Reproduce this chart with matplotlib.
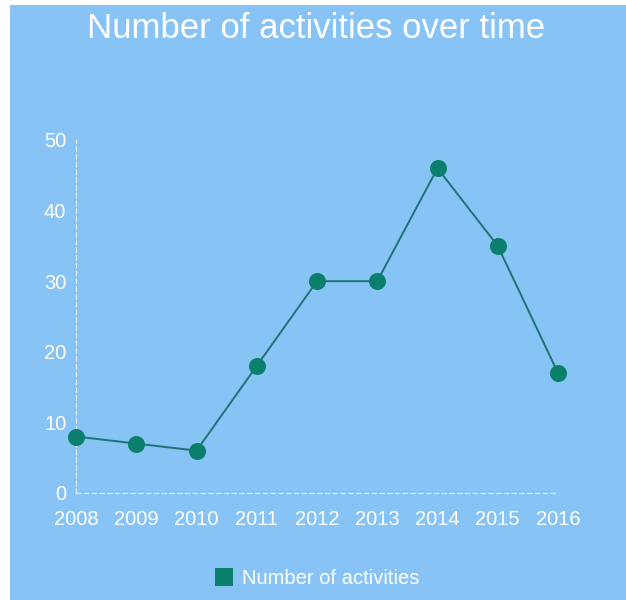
import matplotlib.pyplot as plt
from matplotlib.patches import Rectangle
from matplotlib.lines import Line2D

years = [2008, 2009, 2010, 2011, 2012, 2013, 2014, 2015, 2016]
activities = [8, 7, 6, 18, 30, 30, 46, 35, 17]
y_ticks = [0, 10, 20, 30, 40, 50]

bg = "#88c3f5"
marker_color = "#0a7f6c"
line_color = "#1f7374"

plt.rcParams["font.family"] = ["Liberation Sans", "DejaVu Sans"]

fig = plt.figure(figsize=(6.26, 6.0), dpi=100)
fig.patch.set_facecolor("white")
# blue panel with a thin white margin on the left and top
fig.patches.append(Rectangle((10 / 626, 0), 1 - 10 / 626, 1 - 5 / 600,
                             transform=fig.transFigure, facecolor=bg,
                             edgecolor="none", zorder=-10))

ax = fig.add_axes([76 / 626, 1 - 493 / 600, (558 - 76) / 626, (493 - 140) / 600])
ax.set_facecolor("none")
ax.plot(years, activities, color=line_color, linewidth=1.4, clip_on=False, zorder=3)
ax.scatter(years, activities, s=150, color=marker_color, clip_on=False, zorder=4,
           linewidths=0)

ax.set_xlim(years[0], years[-1])
ax.set_ylim(0, 50)
for side in ["top", "right"]:
    ax.spines[side].set_visible(False)
for side in ["left", "bottom"]:
    ax.spines[side].set_color("white")
    ax.spines[side].set_linestyle((0, (4, 3)))
    ax.spines[side].set_linewidth(0.8)
    ax.spines[side].set_alpha(0.85)

ax.set_xticks(years)
ax.set_xticklabels([str(y) for y in years])
ax.set_yticks(y_ticks)
ax.tick_params(axis="both", length=0, colors="white", labelsize=14.5)
ax.tick_params(axis="x", pad=12)
ax.tick_params(axis="y", pad=7)

fig.text(0.505, 1 - 29 / 600, "Number of activities over time", color="white",
         fontsize=25, ha="center", va="center")

handle = Line2D([], [], marker="s", linestyle="none", markersize=13,
                markerfacecolor=marker_color, markeredgewidth=0)
fig.legend([handle], ["Number of activities"], loc="center",
           bbox_to_anchor=(316 / 626, 1 - 579 / 600), frameon=False,
           fontsize=14.5, labelcolor="white", handletextpad=0.3,
           handlelength=1.2)

fig.savefig("out.png", dpi=100, facecolor=fig.get_facecolor())
